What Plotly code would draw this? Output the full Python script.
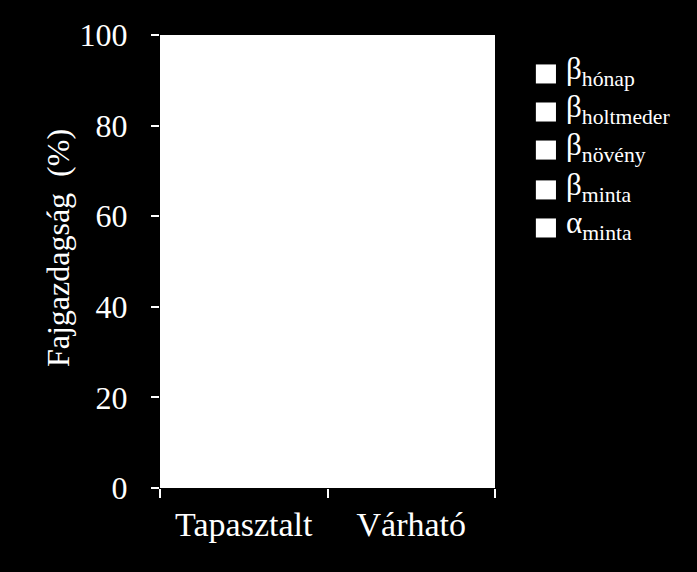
import plotly.graph_objects as go

# categories and stacked components (percent of total species richness)
categories = ['Tapasztalt', 'Várható']
series_names = ['α<sub>minta</sub>', 'β<sub>minta</sub>', 'β<sub>növény</sub>',
                'β<sub>holtmeder</sub>', 'β<sub>hónap</sub>']
alpha_minta = [38, 45]
beta_minta = [22, 25]
beta_noveny = [15, 12]
beta_holtmeder = [12, 10]
beta_honap = [13, 8]
y_ticks = [0, 20, 40, 60, 80, 100]
y_title = 'Fajgazdagság\u00a0 (%)'

series_values = [alpha_minta, beta_minta, beta_noveny, beta_holtmeder, beta_honap]
font_family = 'Liberation Serif'

fig = go.Figure()
for name, vals in zip(series_names, series_values):
    fig.add_trace(go.Bar(x=categories, y=vals, name=name,
                         marker=dict(color='white', line=dict(width=0)),
                         showlegend=False))

# hand made legend, top entry = top of the stack
legend_y = [0.574, 0.658, 0.746, 0.830, 0.914]
shapes = []
annotations = []
for name, ly in zip(series_names, legend_y):
    shapes.append(dict(type='rect', xref='paper', yref='paper',
                       x0=1.122, x1=1.182, y0=ly - 0.021, y1=ly + 0.021,
                       fillcolor='white', line=dict(width=0)))
    annotations.append(dict(text=name, xref='paper', yref='paper',
                            x=1.205, y=ly, xanchor='left', yanchor='middle',
                            yshift=3, showarrow=False,
                            font=dict(family=font_family, size=31, color='white')))

# y axis title as a rotated annotation so it can sit slightly above centre
annotations.append(dict(text=y_title, xref='paper', yref='paper',
                        x=-0.304, y=0.53, xanchor='center', yanchor='middle',
                        textangle=-90, showarrow=False,
                        font=dict(family=font_family, size=32, color='white')))

fig.update_layout(
    width=697, height=572,
    barmode='stack', bargap=0,
    paper_bgcolor='black', plot_bgcolor='white',
    margin=dict(l=160, r=202, t=35, b=84),
    font=dict(family=font_family, color='white'),
    shapes=shapes, annotations=annotations,
    showlegend=False,
    xaxis=dict(tickson='boundaries', ticks='outside', ticklen=9, tickwidth=2,
               tickcolor='white', showline=False, showgrid=False,
               tickfont=dict(family=font_family, size=34, color='white'),
               ticklabelstandoff=13),
    yaxis=dict(range=[0, 100], tickvals=y_ticks, ticks='outside', ticklen=8,
               tickwidth=2, tickcolor='white', showline=False, showgrid=False,
               zeroline=False, ticklabelstandoff=17,
               tickfont=dict(family=font_family, size=32, color='white')),
)

fig.write_html('out.html', config=dict(displayModeBar=False),
               post_script="document.body.style.margin='0';"
                           "document.body.style.background='black';")
